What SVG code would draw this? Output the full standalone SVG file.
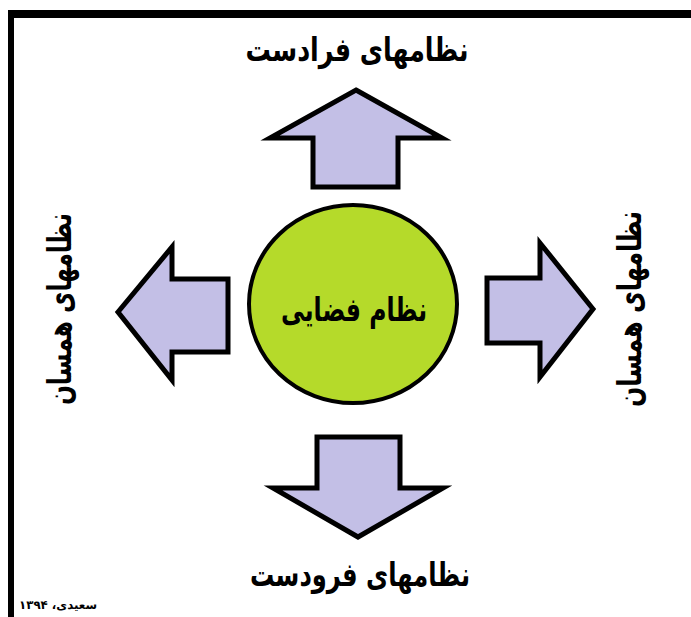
<svg xmlns="http://www.w3.org/2000/svg" width="691" height="617" viewBox="0 0 691 617">
<style>
.arrow{fill:#c3bfe6;stroke:#000;stroke-width:5;stroke-linejoin:miter}
.lbl{font-family:"DejaVu Sans",sans-serif;font-weight:bold;fill:#000;text-anchor:middle}
</style>
<rect x="0" y="0" width="691" height="617" fill="#fff"/>
<g id="frame">
<rect x="8" y="10" width="683" height="8" fill="#000"/>
<rect x="8" y="10" width="6" height="607" fill="#000"/>
</g>
<g id="connectors">
<polygon class="arrow" points="356,90 442,138 398,138 398,187 313,187 313,138 270,138"/>
<polygon class="arrow" points="118,312 172,247 172,279 228,279 228,352 172,352 172,380"/>
<polygon class="arrow" points="593,309 540,243 540,278 487,278 487,343 540,343 540,377"/>
<polygon class="arrow" points="358,537 443,488 400,488 400,437 317,437 317,488 273,488"/>
</g>
<g id="center">
<ellipse cx="353" cy="304" rx="104" ry="99" fill="#b5da2a" stroke="#000" stroke-width="4"/>
<text class="lbl" x="354" y="321" font-size="33" textLength="146" lengthAdjust="spacingAndGlyphs">نظام فضایی</text>
</g>
<g id="top">
<text class="lbl" x="357" y="61" font-size="33" textLength="223" lengthAdjust="spacingAndGlyphs">نظامهای فرادست</text>
</g>
<g id="bottom">
<text class="lbl" x="360" y="586" font-size="33" textLength="220" lengthAdjust="spacingAndGlyphs">نظامهای فرودست</text>
</g>
<g id="left">
<text class="lbl" font-size="33" textLength="192" lengthAdjust="spacingAndGlyphs" transform="translate(71,309) rotate(-90)">نظامهای همسان</text>
</g>
<g id="right">
<text class="lbl" font-size="33" textLength="196" lengthAdjust="spacingAndGlyphs" transform="translate(641,309) rotate(-90)">نظامهای همسان</text>
</g>
<g id="signature">
<text class="lbl" x="58" y="609" font-size="12" textLength="78" lengthAdjust="spacingAndGlyphs">سعیدی، ۱۳۹۴</text>
</g>
</svg>
